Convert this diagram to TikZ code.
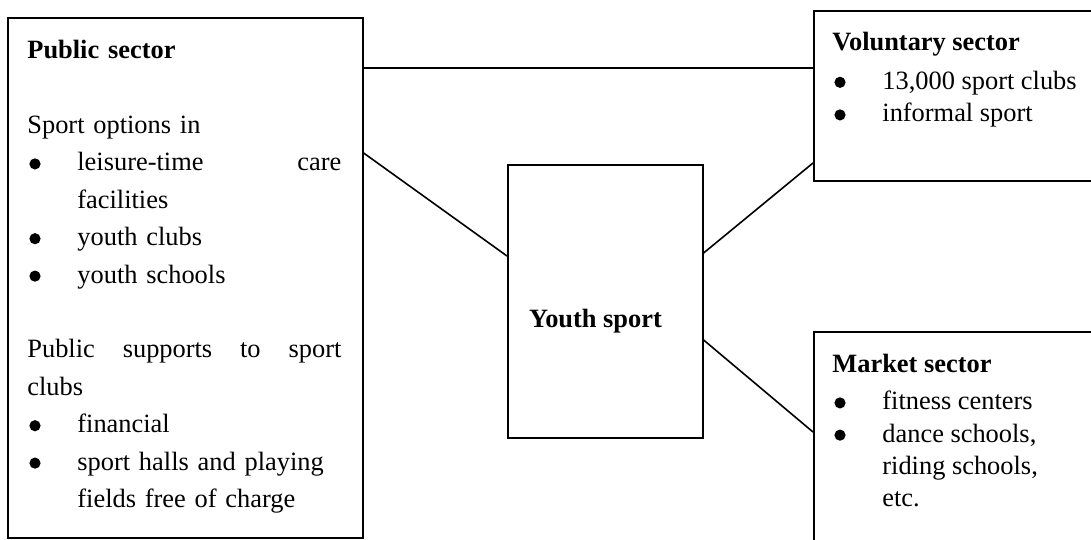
\documentclass[tikz,border=0pt]{standalone}
\usepackage{fontspec}
\setmainfont{Liberation Serif}
\newcommand{\ListDot}{\makebox[25pt][l]{\hspace{1pt}\raisebox{0.7pt}{\tikz\fill (0,0) circle (2.8pt);}}}
\newcommand{\ListGap}{\hspace*{25pt}}
\tikzset{
  sectorbox/.style={draw, line width=0.8pt, inner sep=0pt, anchor=north west},
  sectortext/.style={anchor=north west, inner sep=0pt, align=left,
    font=\fontsize{13.2}{18.7}\selectfont},
  link/.style={line width=0.8pt}
}

\begin{document}
\begin{tikzpicture}[x=0.5pt,y=-0.5pt]
    \useasboundingbox (0,0) rectangle (1091,540);
    \clip (0,0) rectangle (1091,540);

    \node[sectorbox, minimum width=177.5pt, minimum height=260pt] (pub) at (7,17) {};
    \node[sectorbox, minimum width=97.5pt, minimum height=136.5pt] (youth) at (507,164) {};
    \node[sectorbox, minimum width=150pt, minimum height=85pt] (vol) at (813,10) {};
    \node[sectorbox, minimum width=150pt, minimum height=120pt] (mkt) at (813,331) {};

    \node[sectortext, text width=157pt] (pubtext) at (27,40)
      {\textbf{Public sector}\\[18.7pt]
       Sport options in\\
       \ListDot leisure-time\hfill care\\
       \ListGap facilities\\
       \ListDot youth clubs\\
       \ListDot youth schools\\[18.7pt]
       Public\hfill supports\hfill to\hfill sport\\
       clubs\\
       \ListDot financial\\
       \ListDot sport halls and playing\\
       \ListGap fields free of charge};
    \node[sectortext, font=\fontsize{13.2}{16.3}\selectfont] (voltext) at (832,32)
      {\textbf{Voluntary sector}\\[3pt]
       \ListDot 13,000 sport clubs\\
       \ListDot informal sport};
    \node[sectortext, font=\fontsize{13.2}{16.1}\selectfont] (mkttext) at (832,354)
      {\textbf{Market sector}\\[2.5pt]
       \ListDot fitness centers\\
       \ListDot dance schools,\\
       \ListGap riding schools,\\
       \ListGap etc.};
    \node[anchor=base, font=\fontsize{13.2}{16}\selectfont\bfseries] (youthtext) at (595.5,327) {Youth sport};

    \draw[link] ([yshift=-25.5pt]pub.north east) -- ([yshift=-29pt]vol.north west);
    \draw[link] ([yshift=-68pt]pub.north east) -- ([yshift=-46pt]youth.north west);
    \draw[link] ([yshift=-44.5pt]youth.north east) -- ([yshift=-76.5pt]vol.north west);
    \draw[link] ([yshift=-88pt]youth.north east) -- ([yshift=-50.5pt]mkt.north west);
\end{tikzpicture}
\end{document}
